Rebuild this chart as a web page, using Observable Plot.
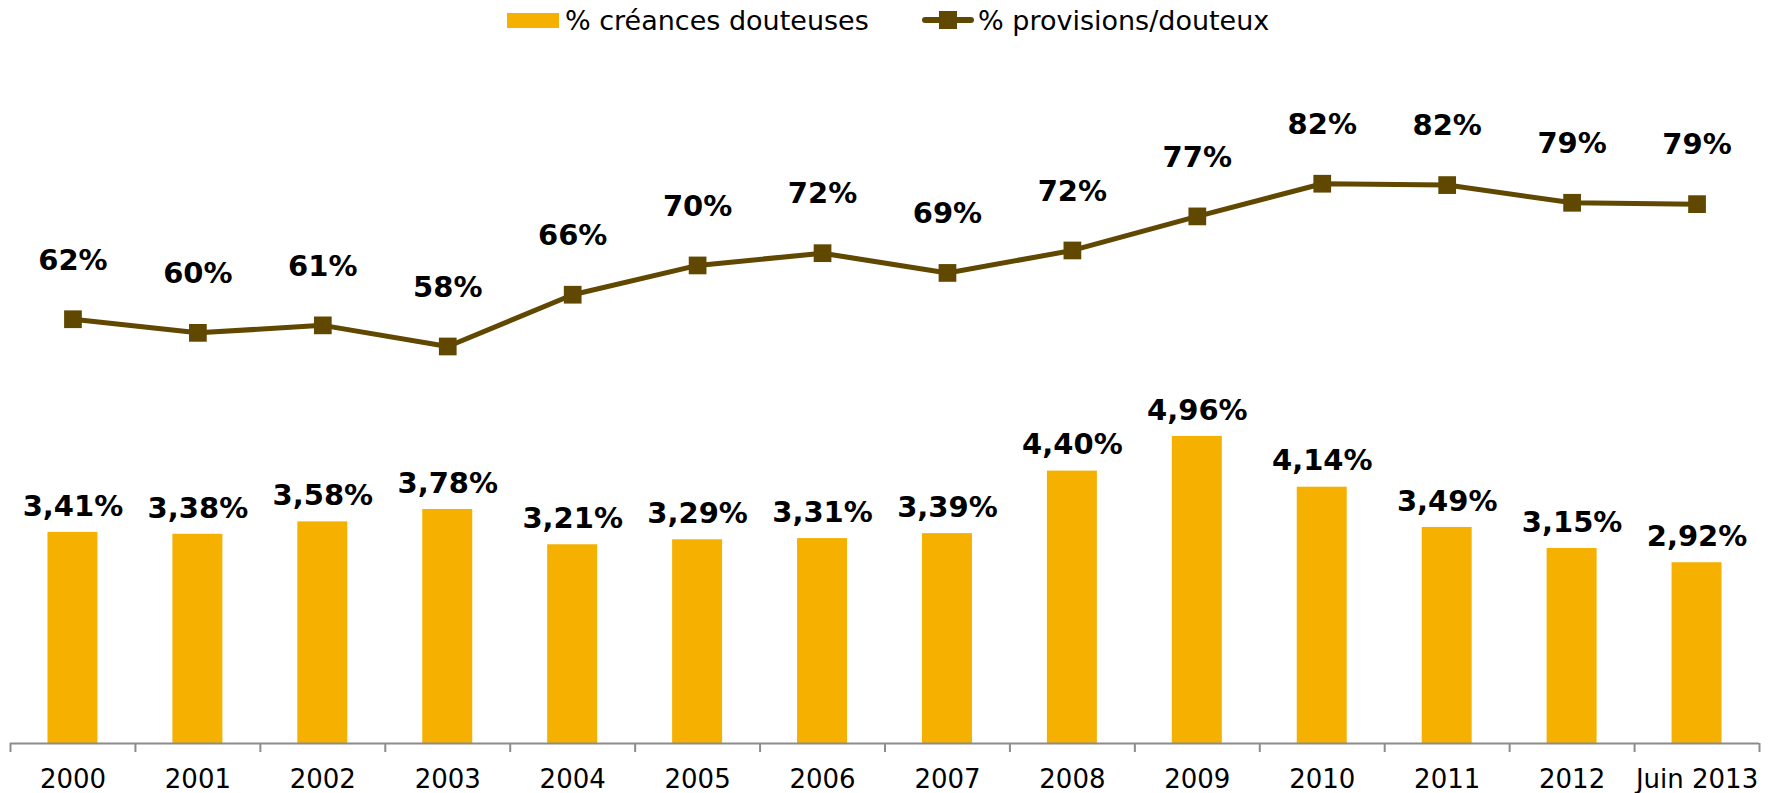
<!DOCTYPE html>
<html>
<head>
<meta charset="utf-8">
<script src="https://cdn.jsdelivr.net/npm/d3@7"></script>
<script src="https://cdn.jsdelivr.net/npm/@observablehq/plot@0.6"></script>
<style>
  html, body { margin: 0; padding: 0; background: #fff; }
  body { font-family: "DejaVu Sans", Verdana, sans-serif; width: 1779px; height: 793px; overflow: hidden; }
  #legend { position: relative; width: 1779px; height: 42px; }
  .lg-item { position: absolute; top: 0; height: 42px; display: flex; align-items: center; }
  .lg-text { font-size: 27px; color: #000; white-space: nowrap; line-height: 1; margin-top: -2px; }
  .lg-swatch { width: 52px; height: 15px; background: #F5B000; margin-right: 6px; margin-top: -2px; }
  .lg-line { position: relative; width: 52px; height: 18px; margin-right: 4px; margin-top: -2px; }
  .lg-line::before { content: ""; position: absolute; left: 0; right: 0; top: 6px; height: 6px; background: #604800; border-radius: 3px; }
  .lg-line::after { content: ""; position: absolute; left: 17px; top: 0; width: 18px; height: 18px; background: #604800; }
  #chart svg { display: block; }
</style>
</head>
<body>
<div id="legend"></div>
<div id="chart"></div>
<script>
// ---- data ----
const categories = ["2000", "2001", "2002", "2003", "2004", "2005", "2006", "2007", "2008", "2009", "2010", "2011", "2012", "Juin 2013"];
const doubtfulPct = [3.41, 3.38, 3.58, 3.78, 3.21, 3.29, 3.31, 3.39, 4.40, 4.96, 4.14, 3.49, 3.15, 2.92];
const provisionPct = [62.3, 60.3, 61.4, 58.3, 65.9, 70.2, 72.0, 69.1, 72.4, 77.4, 82.2, 82.0, 79.4, 79.2];
const seriesNames = ["% créances douteuses", "% provisions/douteux"];
const barAxisMax = 11;    // primary (hidden) axis maximum, in %
const lineAxisMax = 100;  // secondary (hidden) axis maximum, in %

// ---- legend ----
const legend = document.getElementById("legend");
legend.innerHTML =
  `<div class="lg-item" style="left:507px"><div class="lg-swatch"></div><span class="lg-text">${seriesNames[0]}</span></div>` +
  `<div class="lg-item" style="left:922px"><div class="lg-line"></div><span class="lg-text">${seriesNames[1]}</span></div>`;

// ---- chart ----
const rows = categories.map((c, i) => ({
  cat: c,
  bar: doubtfulPct[i],
  line: provisionPct[i],
  lineOnBarAxis: provisionPct[i] * barAxisMax / lineAxisMax
}));

const frLocale = d3.formatLocale({decimal: ",", thousands: " ", grouping: [3], currency: ["", " €"]});
const fmt2 = frLocale.format(".2f");

const W = 1779, H = 751, mL = 10, mR = 20, mT = 20, mB = 50;
const step = (W - mL - mR) / categories.length;
const barColor = "#F5B000";
const lineColor = "#604800";
const axisColor = "#8c8c8c";

const chart = Plot.plot({
  width: W,
  height: H,
  marginLeft: mL,
  marginRight: mR,
  marginTop: mT,
  marginBottom: mB,
  style: {fontFamily: "DejaVu Sans, Verdana, sans-serif", background: "#fff", color: "#000"},
  x: {domain: categories, paddingInner: 0.6, paddingOuter: 0.3, round: false, label: null},
  y: {domain: [0, barAxisMax], axis: null},
  marks: [
    Plot.barY(rows, {x: "cat", y: "bar", fill: barColor}),
    Plot.ruleY([0], {stroke: axisColor, strokeWidth: 2}),
    Plot.ruleX(categories, {x: d => d, y1: d => 0, y2: d => 0, insetBottom: -9, dx: -step / 2, stroke: axisColor, strokeWidth: 2}),
    Plot.ruleX(categories.slice(-1), {x: d => d, y1: d => 0, y2: d => 0, insetBottom: -9, dx: step / 2, stroke: axisColor, strokeWidth: 2}),
    Plot.axisX({tickSize: 0, tickPadding: 26, fontSize: 26, fill: "#000", label: null}),
    Plot.text(rows, {x: "cat", y: "bar", text: d => fmt2(d.bar) + "%", dy: -26, fontSize: 29, fontWeight: "bold", fill: "#000", lineAnchor: "middle"}),
    Plot.line(rows, {x: "cat", y: "lineOnBarAxis", stroke: lineColor, strokeWidth: 5}),
    Plot.dot(rows, {x: "cat", y: "lineOnBarAxis", symbol: "square", fill: lineColor, stroke: "none", r: 10}),
    Plot.text(rows, {x: "cat", y: "lineOnBarAxis", text: d => Math.round(d.line) + "%", dy: -59, fontSize: 29, fontWeight: "bold", fill: "#000", lineAnchor: "middle"})
  ]
});
document.getElementById("chart").appendChild(chart);
</script>
</body>
</html>
